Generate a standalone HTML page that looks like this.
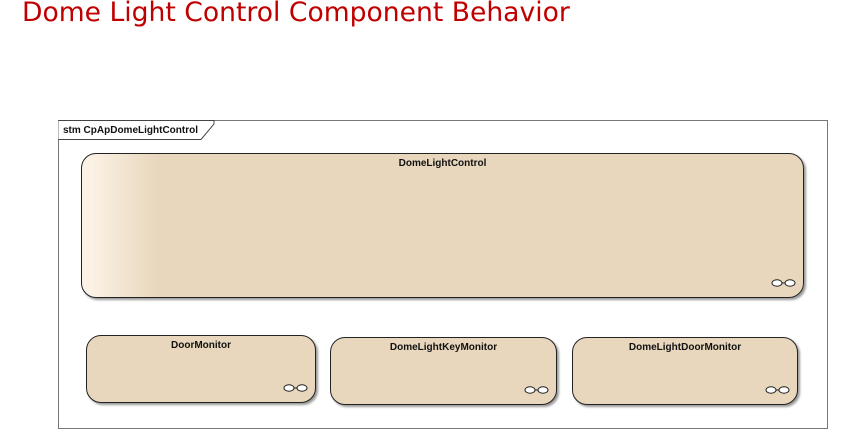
<!DOCTYPE html>
<html><head><style>
body{margin:0;width:868px;height:444px;background:#fff;position:relative;overflow:hidden;font-family:"Liberation Sans",Arial,sans-serif}
.t{position:absolute;left:22px;top:-3px;font:26.6px "DejaVu Sans",sans-serif;color:#c00000;white-space:nowrap}
.frame{position:absolute;left:58px;top:120px;width:768px;height:307px;border:1px solid #777}
.lab{position:absolute;left:58px;top:120px}
.s{position:absolute;border:1px solid #222;border-radius:15px;background:#e8d7bc;box-shadow:2px 2px 2px #999;box-sizing:border-box}
.s b{position:absolute;left:0;right:0;top:4px;text-align:center;font-size:10px;font-weight:bold;color:#111}
.ic{position:absolute;right:6px;bottom:9px}
</style></head><body>
<div class="t">Dome Light Control Component Behavior</div>
<div class="frame"></div>
<svg class="lab" width="160" height="22"><path d="M0.5 0.5 H156 V4 L143 19.5 H0.5" fill="#fff" stroke="#444"/><text x="5" y="13" font-family="Liberation Sans" font-size="10" font-weight="bold" fill="#111">stm CpApDomeLightControl</text></svg>
<div class="s" style="left:81px;top:153px;width:723px;height:145px;background:linear-gradient(90deg,#fbf1e4 0,#fbf1e4 10px,#e8d7bc 75px)"><b>DomeLightControl</b><svg class="ic" width="26" height="10"><ellipse cx="6" cy="5" rx="5" ry="3.2" fill="#fff" stroke="#222"/><ellipse cx="19" cy="5" rx="5" ry="3.2" fill="#fff" stroke="#222"/><line x1="11" y1="5" x2="14" y2="5" stroke="#222"/></svg></div>
<div class="s" style="left:86px;top:335px;width:230px;height:68px"><b>DoorMonitor</b><svg class="ic" width="26" height="10"><ellipse cx="6" cy="5" rx="5" ry="3.2" fill="#fff" stroke="#222"/><ellipse cx="19" cy="5" rx="5" ry="3.2" fill="#fff" stroke="#222"/><line x1="11" y1="5" x2="14" y2="5" stroke="#222"/></svg></div>
<div class="s" style="left:330px;top:337px;width:227px;height:68px"><b>DomeLightKeyMonitor</b><svg class="ic" width="26" height="10"><ellipse cx="6" cy="5" rx="5" ry="3.2" fill="#fff" stroke="#222"/><ellipse cx="19" cy="5" rx="5" ry="3.2" fill="#fff" stroke="#222"/><line x1="11" y1="5" x2="14" y2="5" stroke="#222"/></svg></div>
<div class="s" style="left:572px;top:337px;width:226px;height:68px"><b>DomeLightDoorMonitor</b><svg class="ic" width="26" height="10"><ellipse cx="6" cy="5" rx="5" ry="3.2" fill="#fff" stroke="#222"/><ellipse cx="19" cy="5" rx="5" ry="3.2" fill="#fff" stroke="#222"/><line x1="11" y1="5" x2="14" y2="5" stroke="#222"/></svg></div>
</body></html>
